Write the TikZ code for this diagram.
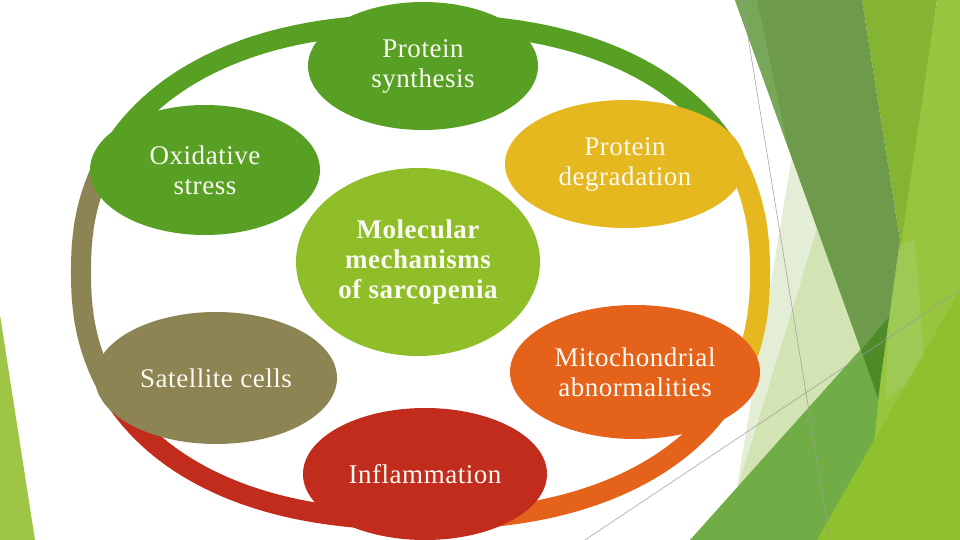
\documentclass[tikz,border=0pt]{standalone}
\usepackage{fontspec}
\setmainfont[LetterSpace=2]{Liberation Serif}
\usetikzlibrary{shapes.geometric}
\definecolor{cGreen}{HTML}{58A024}
\definecolor{cGold}{HTML}{E6B81F}
\definecolor{cLime}{HTML}{8FBE29}
\definecolor{cOrange}{HTML}{E5621A}
\definecolor{cOlive}{HTML}{8D8453}
\definecolor{cRed}{HTML}{C22C1C}
\definecolor{cText}{HTML}{FAFAF2}
\definecolor{fSliver}{HTML}{77A85A}
\definecolor{fDark}{HTML}{6D9B4B}
\definecolor{fMid}{HTML}{85B432}
\definecolor{fLight}{HTML}{97C53E}
\definecolor{fPale}{HTML}{E4EED6}
\definecolor{fPaleB}{HTML}{D2E4B4}
\definecolor{fAcc}{HTML}{70AD47}
\definecolor{fDeep}{HTML}{4F8A29}
\definecolor{fBright}{HTML}{8EC12D}
\definecolor{fSoft}{HTML}{9DCA55}
\definecolor{fLeft}{HTML}{9EC545}
\definecolor{fLine}{HTML}{9A9A9A}
\newcommand{\ringarc}[3]{%
  \draw[ringseg,#1] plot[domain=#2:#3,samples=70,variable=\t]
    ({420.5+339.5*sign(cos(\t))*pow(abs(cos(\t))+0.00001,0.87)},
     {272-248*sign(sin(\t))*pow(abs(sin(\t))+0.00001,0.87)});}
\begin{document}
\begin{tikzpicture}[x=1pt,y=-1pt,
  bubble/.style={ellipse, inner sep=0pt, text=cText, align=center,
                 font=\fontsize{27}{30}\selectfont},
  ringseg/.style={line width=20pt, line cap=butt},
  facet/.style={draw=none}]
\useasboundingbox (0,0) rectangle (960,540);
\fill[white] (0,0) rectangle (960,540);

% --- background facets ---
\fill[fLeft] (0,315) -- (0,540) -- (35,540) -- cycle;
\fill[fPale] (818,0) -- (728,540) -- (875,400) -- cycle;
\fill[fPaleB] (835,170) -- (734,500) -- (870,420) -- cycle;
\fill[fLight] (937,0) -- (960,0) -- (960,540) -- (820,540) -- (878,398) -- (900,240) -- cycle;
\fill[fSoft] (900,245) -- (915,240) -- (925,370) -- (885,400) -- (889,317) -- cycle;
\fill[fMid] (862,0) -- (937,0) -- (900,250) -- (900,240) -- cycle;
\fill[fDark] (735,0) -- (862,0) -- (900,240) -- (878,398) -- cycle;
\fill[fSliver] (735,0) -- (757,0) -- (788,147) -- cycle;
\fill[fAcc] (690,540) -- (887,320) -- (870,480) -- (840,540) -- cycle;
\fill[fDeep] (861,350) -- (889,317) -- (878,398) -- cycle;
\fill[fBright] (817,540) -- (920,360) -- (960,290) -- (960,540) -- cycle;
\draw[fLine, line width=0.5pt] (742,0) -- (830,540);
\draw[fLine, line width=0.5pt] (585,540) -- (960,290);

% --- ring ---
\ringarc{cGreen}{24}{156}
\ringarc{cGold}{-21}{26}
\ringarc{cOrange}{-91}{-19}
\ringarc{cRed}{-155}{-89}
\ringarc{cOlive}{154}{206}

% --- bubbles ---
\node[bubble, fill=cGreen, minimum width=230pt, minimum height=128pt] (ps) at (423,66) {Protein\\synthesis};
\node[bubble, fill=cGold, minimum width=240pt, minimum height=128pt] (pd) at (625,164) {Protein\\degradation};
\node[bubble, fill=cGreen, minimum width=230pt, minimum height=130pt] (os) at (205,170) {Oxidative\\stress};
\node[bubble, fill=cLime, minimum width=244pt, minimum height=188pt,
      font=\bfseries\fontsize{27}{30}\selectfont] (mm) at (418,262) {Molecular\\mechanisms\\of sarcopenia};
\node[bubble, fill=cOrange, minimum width=250pt, minimum height=134pt] (mi) at (635,372) {Mitochondrial\\abnormalities};
\node[bubble, fill=cOlive, minimum width=242pt, minimum height=132pt] (sc) at (216,378) {Satellite cells};
\node[bubble, fill=cRed, minimum width=244pt, minimum height=132pt] (in) at (425,474) {Inflammation};
\end{tikzpicture}
\end{document}
